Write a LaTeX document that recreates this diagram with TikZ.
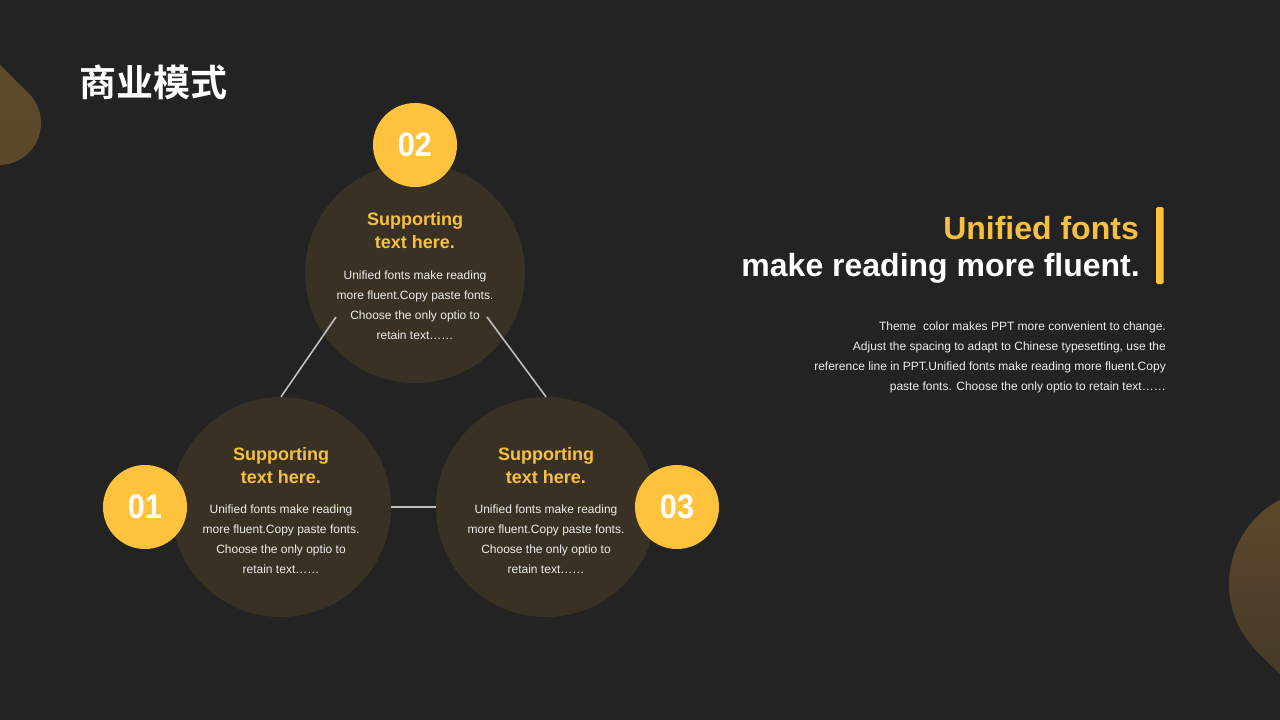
\documentclass[tikz,border=0pt]{standalone}
\usepackage{fontspec}
\usetikzlibrary{calc}
\setmainfont{Liberation Sans}
\newfontfamily\cjk{Noto Sans CJK SC Bold}
\definecolor{bg}{HTML}{232323}
\definecolor{disc}{HTML}{3A3125}
\definecolor{gold}{HTML}{FEC23C}
\definecolor{headgold}{HTML}{F7C03F}
\definecolor{linkgray}{HTML}{BFBFBF}
\definecolor{bodytxt}{HTML}{EDEDED}
\definecolor{decA}{HTML}{5F4B2C}
\definecolor{decB}{HTML}{3F3527}
\tikzset{
  bigdisc/.style={circle,fill=disc,minimum size=220pt,inner sep=0pt},
  numdisc/.style={circle,fill=gold,minimum size=84pt,inner sep=0pt,text=white,font=\bfseries\fontsize{34}{38}\selectfont},
  headtxt/.style={text=headgold,align=center,font=\bfseries\fontsize{18}{23}\selectfont,inner sep=0pt},
  bodytext/.style={text=bodytxt,align=center,font=\fontsize{12}{20}\selectfont,inner sep=0pt},
  link/.style={draw=linkgray,line width=1.6pt},
}
\begin{document}
\begin{tikzpicture}[x=1pt,y=-1pt]
\useasboundingbox (0,0) rectangle (1280,720);
\fill[bg] (0,0) rectangle (1280,720);
% decorations
\shade[top color=decA,bottom color=decA!85!decB] (-1,64) -- ($(-1,123)+(-45:42)$) arc[start angle=-45,end angle=225,radius=42] -- cycle;
\shade[top color=decA,bottom color=decB] (1324,718) -- ($(1324,584)+(135:95)$) arc[start angle=135,end angle=405,radius=95] -- cycle;
% title
\node[anchor=west,text=white,font=\cjk\fontsize{37}{40}\selectfont,inner sep=0pt] (title) at (79,82) {商业模式};
% big discs
\node[bigdisc] (c2) at (415,273) {};
\node[bigdisc] (c1) at (281,507) {};
\node[bigdisc] (c3) at (546,507) {};
% connectors
\coordinate (c2l) at (336,317);
\coordinate (c2r) at (487,317);
\draw[link] (c2l) -- (c1.north);
\draw[link] (c2r) -- (c3.north);
\draw[link] (c1.east) -- (c3.west);
% number discs
\node[numdisc] (n2) at (415,145) {\scalebox{0.9}[1]{02}};
\node[numdisc] (n1) at (145,507) {\scalebox{0.9}[1]{01}};
\node[numdisc] (n3) at (677,507) {\scalebox{0.9}[1]{03}};
% disc texts
\node[headtxt] (h2) at (415,231) {Supporting\\text here.};
\node[bodytext] (b2) at (415,305) {Unified fonts make reading\\more fluent.Copy paste fonts.\\Choose the only optio to\\retain text\dots\dots};
\node[headtxt] (h1) at (281,465.5) {Supporting\\text here.};
\node[bodytext] (b1) at (281,539) {Unified fonts make reading\\more fluent.Copy paste fonts.\\Choose the only optio to\\retain text\dots\dots};
\node[headtxt] (h3) at (546,465.5) {Supporting\\text here.};
\node[bodytext] (b3) at (546,539) {Unified fonts make reading\\more fluent.Copy paste fonts.\\Choose the only optio to\\retain text\dots\dots};
% right side
\node[anchor=east,text=headgold,font=\bfseries\fontsize{32}{36}\selectfont,inner sep=0pt] (u1) at (1139,228) {Unified fonts};
\node[anchor=east,text=white,font=\bfseries\fontsize{32}{36}\selectfont,inner sep=0pt] (u2) at (1140,268) {make reading more fluent.};
\fill[gold,rounded corners=1.5pt] (1156,207) rectangle (1163.5,284);
\node[anchor=east,align=right,text=bodytxt,font=\fontsize{12}{20}\selectfont,inner sep=0pt] (para) at (1166,357.5) {Theme\ \ color makes PPT more convenient to change.\\Adjust the spacing to adapt to Chinese typesetting, use the\\reference line in PPT.Unified fonts make reading more fluent.Copy\\paste fonts. Choose the only optio to retain text\dots\dots};
\end{tikzpicture}
\end{document}
